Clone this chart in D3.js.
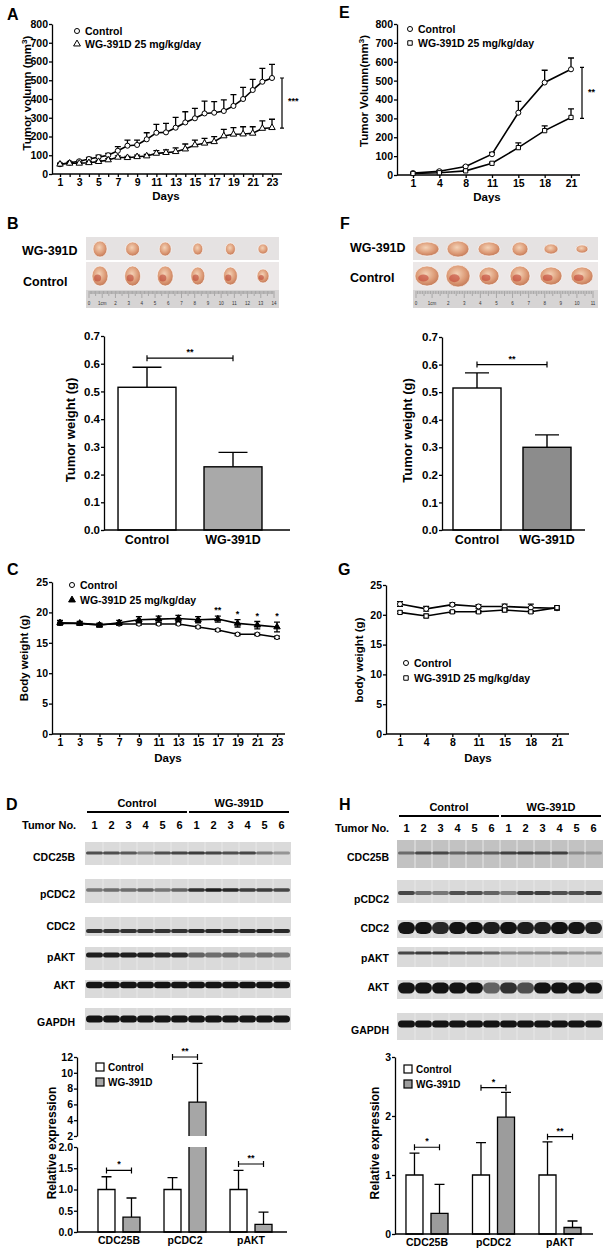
<!DOCTYPE html>
<html>
<head>
<meta charset="utf-8">
<script src="https://cdn.jsdelivr.net/npm/d3@7"></script>
<style>
  body { margin: 0; background: #fff; }
</style>
</head>
<body>
<script>
// ---- data ----
const daysA = [1,2,3,4,5,6,7,8,9,10,11,12,13,14,15,16,17,18,19,20,21,22,23];
const volCtlA = [52,60,68,80,90,100,124,151,155,185,220,222,247,275,297,323,327,336,363,400,448,492,512];
const volCtlErrA = [5,5,5,8,10,10,22,30,26,35,45,48,55,57,53,66,59,59,60,62,57,71,73];
const volWgA = [52,57,57,60,66,75,89,87,92,96,110,114,119,133,155,164,172,203,212,213,217,243,247];
const volWgErrA = [4,4,5,6,7,7,8,7,9,8,15,15,20,27,26,26,27,35,35,39,35,40,45];

const daysE = [1,4,8,11,15,18,21];
const volCtlE = [10,20,45,110,330,490,560];
const volCtlErrE = [3,4,5,10,60,65,60];
const volWgE = [8,12,22,62,145,235,305];
const volWgErrE = [2,3,4,5,25,25,45];

const weightGroups = ["Control", "WG-391D"];
const weightB = [0.515, 0.228];
const weightErrB = [0.072, 0.052];
const weightF = [0.515, 0.30];
const weightErrF = [0.055, 0.045];

const daysC = [1,3,5,7,9,11,13,15,17,19,21,23];
const bwCtlC = [18.2,18.2,18.0,18.1,18.1,18.1,18.1,17.6,17.1,16.4,16.4,15.9];
const bwCtlErrC = [0.2,0.2,0.2,0.2,0.2,0.2,0.2,0.2,0.2,0.2,0.2,0.2];
const bwWgC = [18.3,18.2,17.9,18.3,18.8,18.9,19.0,18.8,18.9,18.2,17.9,17.6];
const bwWgErrC = [0.4,0.3,0.3,0.4,0.5,0.5,0.5,0.5,0.5,0.6,0.6,0.8];
const starsC = ["","","","","","","","","**","*","*","*"];

const daysG = [1,4,8,11,15,18,21];
const bwCtlG = [21.8,21.0,21.7,21.4,21.4,21.2,21.1];
const bwCtlErrG = [0.4,0.4,0.3,0.3,0.4,0.6,0.3];
const bwWgG = [20.4,19.8,20.5,20.5,20.8,20.5,21.2];
const bwWgErrG = [0.2,0.3,0.2,0.2,0.3,0.2,0.3];

const proteins = ["CDC25B", "pCDC2", "pAKT"];
const exprCtlD = [1, 1, 1];
const exprCtlErrD = [0.3, 0.28, 0.45];
const exprWgD = [0.35, 6.3, 0.18];
const exprWgErrD = [0.45, 4.9, 0.29];
const exprCtlH = [1, 1, 1];
const exprCtlErrH = [0.37, 0.55, 0.56];
const exprWgH = [0.35, 1.98, 0.11];
const exprWgErrH = [0.49, 0.42, 0.11];

const volTicks = [0,100,200,300,400,500,600,700,800];
const weightTicks = [0,0.1,0.2,0.3,0.4,0.5,0.6,0.7];
const bodyTicks = [0,5,10,15,20,25];
const exprLowTicksD = [0,0.5,1,1.5,2];
const exprHighTicksD = [2,4,6,8,10,12];
const exprTicksH = [0,1,2,3];

const laneIds = ["c1","c2","c3","c4","c5","c6","w1","w2","w3","w4","w5","w6"];
const laneNames = ["1","2","3","4","5","6","1","2","3","4","5","6"];
const blotNames = ["CDC25B","pCDC2","CDC2","pAKT","AKT","GAPDH"];
// band darkness per lane (0..1)
const blotD = [
  [0.7,0.7,0.65,0.45,0.7,0.75,0.8,0.75,0.7,0.75,0.5,0.35],
  [0.5,0.55,0.55,0.6,0.5,0.6,0.85,0.95,0.9,0.8,0.8,0.75],
  [0.85,0.85,0.85,0.85,0.85,0.85,0.9,0.9,0.9,0.9,0.95,0.9],
  [0.95,0.95,0.95,0.95,0.9,0.9,0.6,0.55,0.6,0.5,0.55,0.5],
  [1,1,1,1,1,1,1,1,1,1,1,1],
  [1,1,1,1,1,1,1,1,1,1,1,1]
];
const blotH = [
  [0.5,0.7,0.7,0.55,0.6,0.6,0.75,0.8,0.75,0.75,0.3,0.25],
  [0.75,0.55,0.5,0.7,0.7,0.6,0.45,0.8,0.8,0.7,0.7,0.8],
  [1,1,0.9,1,1,0.95,1,0.95,0.95,1,1,0.95],
  [0.75,0.8,0.8,0.7,0.7,0.6,0.4,0.4,0.4,0.45,0.35,0.35],
  [1,1,1,1,1,0.6,0.85,0.7,1,1,1,1],
  [1,1,1,1,1,1,1,1,1,1,1,1]
];

// tumour sizes in the photos (width, height in px)
const tumorWB = [[14,16],[14,14],[12,14],[10,12],[10,12],[10,10]];
const tumorCB = [[16,20],[16,20],[16,20],[14,18],[14,18],[12,14]];
const tumorWF = [[24,14],[22,16],[22,14],[16,14],[14,10],[12,8]];
const tumorCF = [[24,20],[24,22],[20,18],[20,20],[22,18],[22,18]];

// ---- drawing ----
const FONT = "'Liberation Sans', Arial, Helvetica, sans-serif";
const svg = d3.select("body").append("svg").attr("width", 615).attr("height", 1250);

const defs = svg.append("defs");
const grad = defs.append("radialGradient").attr("id", "tumor").attr("cx", "45%").attr("cy", "40%").attr("r", "60%");
grad.append("stop").attr("offset", "0%").attr("stop-color", "#f4d2b6");
grad.append("stop").attr("offset", "65%").attr("stop-color", "#dc9a76");
grad.append("stop").attr("offset", "100%").attr("stop-color", "#c47a58");

function text(x, y, s, size, anchor, rotate) {
  const t = svg.append("text")
    .attr("x", x).attr("y", y)
    .attr("font-family", FONT).attr("font-weight", "bold")
    .attr("font-size", size).attr("fill", "#000")
    .attr("text-anchor", anchor || "start")
    .text(s);
  if (rotate) t.attr("transform", `rotate(-90,${x},${y})`);
  return t;
}

function styleAxis(g, size) {
  g.selectAll(".domain, .tick line").attr("stroke", "#000").attr("stroke-width", 1.3);
  g.selectAll(".tick text").attr("font-family", FONT).attr("font-weight", "bold")
    .attr("font-size", size).attr("fill", "#000");
}

function yAxis(x0, scale, ticks, fmt, size) {
  return svg.append("g").attr("transform", `translate(${x0},0)`)
    .call(d3.axisLeft(scale).tickValues(ticks).tickFormat(fmt || d3.format("")).tickSize(3).tickSizeOuter(0).tickPadding(1))
    .call(styleAxis, size || 10.5);
}

function xAxis(y0, scale, ticks, fmt, from, to, size, tick) {
  const ax = d3.axisBottom(scale).tickSizeOuter(0).tickSize(tick).tickPadding(tick ? 2 : 5);
  if (ticks) ax.tickValues(ticks);
  if (fmt) ax.tickFormat(fmt);
  return svg.append("g").attr("transform", `translate(0,${y0})`)
    .call(ax).call(styleAxis, size)
    .call(g => g.select(".domain").attr("d", `M${from},0H${to}`));
}

function bracket(xa, xb, yy, label) {
  svg.append("path")
    .attr("d", `M${xa},${yy - 3}V${yy + 3}M${xa},${yy}H${xb}M${xb},${yy - 3}V${yy + 3}`)
    .attr("stroke", "#000").attr("stroke-width", 1.2).attr("fill", "none");
  text((xa + xb) / 2, yy - 3, label, 9, "middle");
}

function drawSeries(x, y, s) {
  const pts = s.days.map((d, i) => ({ d, v: s.vals[i], e: s.errs[i] }));
  const cw = 3;
  const g = svg.append("g");
  g.selectAll(".err").data(pts).join("path")
    .attr("d", p => {
      const cx = x(p.d), top = y(p.v + p.e), bot = s.both ? y(p.v - p.e) : y(p.v);
      return `M${cx},${bot}V${top}M${cx - cw},${top}H${cx + cw}` + (s.both ? `M${cx - cw},${bot}H${cx + cw}` : "");
    })
    .attr("stroke", "#000").attr("stroke-width", 1.3).attr("fill", "none");
  g.append("path").datum(pts)
    .attr("d", d3.line().x(p => x(p.d)).y(p => y(p.v)))
    .attr("fill", "none").attr("stroke", "#000").attr("stroke-width", 1.6);
  g.selectAll(".pt").data(pts).join("path")
    .attr("transform", p => `translate(${x(p.d)},${y(p.v)})`)
    .attr("d", d3.symbol(s.sym, s.size || 20))
    .attr("fill", s.fill).attr("stroke", "#000").attr("stroke-width", 1);
  return pts;
}

function legendItem(x, y, sym, fill, label, size) {
  svg.append("path").attr("transform", `translate(${x},${y})`)
    .attr("d", d3.symbol(sym, 20)).attr("fill", fill).attr("stroke", "#000").attr("stroke-width", 1);
  text(x + 8, y + 4, label, size || 10.5);
}

function axisTitleSup(x, y, base, sup, tail, size) {
  const t = text(x, y, base, size, "middle", true);
  t.append("tspan").attr("baseline-shift", "super").attr("font-size", size * 0.7).text(sup);
  t.append("tspan").text(tail);
}

// ---------- A ----------
text(7, 20, "A", 16);
const xA = d3.scaleLinear([1, 23], [60, 272]);
const yA = d3.scaleLinear([0, 800], [174, 24]);
yAxis(52, yA, volTicks);
xAxis(174, xA, daysA, d => (d % 2 ? d : ""), 52, 282, 10.5, 3);
drawSeries(xA, yA, { days: daysA, vals: volCtlA, errs: volCtlErrA, sym: d3.symbolCircle, fill: "#fff" });
drawSeries(xA, yA, { days: daysA, vals: volWgA, errs: volWgErrA, sym: d3.symbolTriangle, fill: "#fff", size: 18 });
legendItem(77, 31, d3.symbolCircle, "#fff", "Control");
legendItem(77, 44, d3.symbolTriangle, "#fff", "WG-391D 25 mg/kg/day");
svg.append("path").attr("d", `M282,${yA(512)}V${yA(245)}M280,${yA(512)}H284M280,${yA(245)}H284`)
  .attr("stroke", "#000").attr("stroke-width", 1.2);
text(288, yA(372), "***", 9);
axisTitleSup(31, 93, "Tumor volumn (mm", "3", ")", 11.5);
text(166, 200, "Days", 11.5, "middle");

// ---------- E ----------
text(339, 18, "E", 16);
const xE = d3.scalePoint(daysE, [413, 571]);
const yE = d3.scaleLinear([0, 800], [175, 24]);
yAxis(397, yE, volTicks);
xAxis(175, xE, null, null, 397, 580, 10.5, 3);
drawSeries(xE, yE, { days: daysE, vals: volCtlE, errs: volCtlErrE, sym: d3.symbolCircle, fill: "#fff" });
drawSeries(xE, yE, { days: daysE, vals: volWgE, errs: volWgErrE, sym: d3.symbolSquare, fill: "#fff", size: 18 });
legendItem(410, 29, d3.symbolCircle, "#fff", "Control");
legendItem(410, 43, d3.symbolSquare, "#fff", "WG-391D 25 mg/kg/day");
svg.append("path").attr("d", `M582,${yE(570)}V${yE(300)}M580,${yE(570)}H584M580,${yE(300)}H584`)
  .attr("stroke", "#000").attr("stroke-width", 1.2);
text(588, yE(425), "**", 9);
axisTitleSup(368, 91, "Tumor Volumn(mm", "3", ")", 11.5);
text(487, 201, "Days", 11.5, "middle");

// ---------- photos (B, F) ----------
function photo(x0, x1, wg, ctl, rulerMax, spot) {
  const g = svg.append("g");
  g.append("rect").attr("x", x0).attr("y", 237).attr("width", x1 - x0).attr("height", 23).attr("fill", "#e5e2e2");
  g.append("rect").attr("x", x0).attr("y", 262).attr("width", x1 - x0).attr("height", 28).attr("fill", "#ece8e8");
  g.append("rect").attr("x", x0).attr("y", 290).attr("width", x1 - x0).attr("height", 18).attr("fill", "#d6d4d4");
  const px = d3.scalePoint(d3.range(6), [x0 + 14, x1 - 16]);
  const rows = [{ list: wg, cy: 249, red: false }, { list: ctl, cy: 276, red: true }];
  rows.forEach(r => {
    g.selectAll(null).data(r.list).join("ellipse")
      .attr("cx", (d, i) => px(i)).attr("cy", r.cy)
      .attr("rx", d => d[0] / 2).attr("ry", d => d[1] / 2)
      .attr("fill", "url(#tumor)").attr("stroke", "#fff").attr("stroke-width", 0.6);
    if (r.red) {
      g.selectAll(null).data(r.list).join("ellipse")
        .attr("cx", (d, i) => px(i) - d[0] * 0.15)
        .attr("cy", d => r.cy + d[1] * 0.1)
        .attr("rx", d => d[0] * 0.22).attr("ry", d => d[1] * 0.18)
        .attr("fill", spot).attr("opacity", 0.55);
    }
  });
  const rx = d3.scaleLinear([0, rulerMax], [x0 + 3, x1 - 5]);
  const mm = d3.range(0, rulerMax * 10 + 1);
  g.selectAll(null).data(mm).join("line")
    .attr("x1", d => rx(d / 10)).attr("x2", d => rx(d / 10))
    .attr("y1", 291).attr("y2", d => (d % 10 === 0 ? 298 : d % 5 === 0 ? 296 : 294))
    .attr("stroke", "#7a7a7a").attr("stroke-width", 0.5);
  g.selectAll(null).data(d3.range(0, rulerMax + 1)).join("text")
    .attr("x", d => rx(d)).attr("y", 305)
    .attr("font-family", FONT).attr("font-size", 4.5).attr("fill", "#333").attr("text-anchor", "middle")
    .text(d => (d === 1 ? "1cm" : d));
}

// ---------- B ----------
text(7, 229, "B", 16);
photo(86, 279, tumorWB, tumorCB, 14, "#b83a2c");
text(22, 255, "WG-391D", 12.5);
text(23, 286, "Control", 12.5);

function weightBars(o) {
  const y = d3.scaleLinear([0, 0.7], [o.yBot, o.yTop]);
  const x = d3.scaleBand(weightGroups, o.range).paddingInner(o.pi).paddingOuter(o.po);
  const rows = weightGroups.map((k, i) => ({ k, v: o.vals[i], e: o.errs[i] }));
  const g = svg.append("g");
  g.selectAll(".err").data(rows).join("path")
    .attr("d", r => {
      const cx = x(r.k) + x.bandwidth() / 2, w = x.bandwidth() / 4, t = y(r.v + r.e);
      return `M${cx},${y(r.v)}V${t}M${cx - w},${t}H${cx + w}`;
    })
    .attr("stroke", "#000").attr("stroke-width", 1.4);
  g.selectAll("rect").data(rows).join("rect")
    .attr("x", r => x(r.k)).attr("y", r => y(r.v))
    .attr("width", x.bandwidth()).attr("height", r => y(0) - y(r.v))
    .attr("fill", (r, i) => (i ? o.gray : "#fff")).attr("stroke", "#000").attr("stroke-width", 1.4);
  yAxis(o.axisX, y, weightTicks, d3.format(".1f"), 11.5);
  xAxis(o.yBot, x, null, null, o.axisX, o.axisEnd, 12.5, 0);
  bracket(x("Control") + x.bandwidth() / 2, x("WG-391D") + x.bandwidth() / 2, y(o.sig), "**");
  text(o.titleX, (o.yTop + o.yBot) / 2 - 3, "Tumor weight (g)", 13, "middle", true);
}

weightBars({ yTop: 336, yBot: 530, range: [104, 276], pi: 0.326, po: 0.163,
  vals: weightB, errs: weightErrB, gray: "#a9a9a9", axisX: 104, axisEnd: 290, sig: 0.62, titleX: 75 });

// ---------- F ----------
text(340, 229, "F", 16);
photo(413, 598, tumorWF, tumorCF, 11, "#c0392b");
text(350, 252, "WG-391D", 12.5);
text(350, 282, "Control", 12.5);
weightBars({ yTop: 337, yBot: 530, range: [442, 582], pi: 0.314, po: 0.157,
  vals: weightF, errs: weightErrF, gray: "#8c8c8c", axisX: 442, axisEnd: 585, sig: 0.6, titleX: 412 });

// ---------- C ----------
text(7, 575, "C", 16);
const xC = d3.scaleLinear([1, 23], [60, 277]);
const yC = d3.scaleLinear([0, 25], [734, 582]);
yAxis(52, yC, bodyTicks);
xAxis(734, xC, daysC, null, 52, 285, 10.5, 3);
drawSeries(xC, yC, { days: daysC, vals: bwCtlC, errs: bwCtlErrC, sym: d3.symbolCircle, fill: "#fff", both: true, size: 16 });
const wgC = drawSeries(xC, yC, { days: daysC, vals: bwWgC, errs: bwWgErrC, sym: d3.symbolTriangle, fill: "#000", both: true, size: 18 });
svg.append("g").selectAll("text").data(wgC.filter((p, i) => starsC[i])).join("text")
  .attr("x", p => xC(p.d)).attr("y", p => yC(p.v + p.e) - 3)
  .attr("font-family", FONT).attr("font-weight", "bold").attr("font-size", 9).attr("text-anchor", "middle")
  .text(p => starsC[daysC.indexOf(p.d)]);
legendItem(72, 585, d3.symbolCircle, "#fff", "Control");
legendItem(72, 600, d3.symbolTriangle, "#000", "WG-391D 25 mg/kg/day");
text(28, 658, "Body weight (g)", 11.5, "middle", true);
text(168, 762, "Days", 11.5, "middle");

// ---------- G ----------
text(338, 575, "G", 16);
const xG = d3.scalePoint(daysG, [400, 557]);
const yG = d3.scaleLinear([0, 25], [734, 585]);
yAxis(386, yG, bodyTicks);
xAxis(734, xG, null, null, 386, 569, 10.5, 3);
drawSeries(xG, yG, { days: daysG, vals: bwCtlG, errs: bwCtlErrG, sym: d3.symbolCircle, fill: "#fff", both: true });
drawSeries(xG, yG, { days: daysG, vals: bwWgG, errs: bwWgErrG, sym: d3.symbolSquare, fill: "#fff", both: true, size: 18 });
legendItem(406, 663, d3.symbolCircle, "#fff", "Control");
legendItem(406, 678, d3.symbolSquare, "#fff", "WG-391D 25 mg/kg/day");
text(363, 660, "body weight (g)", 11.5, "middle", true);
text(478, 762, "Days", 11.5, "middle");

// ---------- western blots (D, H) ----------
function blots(o) {
  const lane = d3.scaleBand(laneIds, o.range).paddingInner(0.12);
  const g = svg.append("g");
  const c1 = lane("c1"), c6 = lane("c6") + lane.bandwidth(), w1 = lane("w1"), w6 = lane("w6") + lane.bandwidth();
  g.append("path").attr("d", `M${c1},${o.lineY}H${c6}M${w1},${o.lineY}H${w6}`)
    .attr("stroke", "#000").attr("stroke-width", 1.8);
  text((c1 + c6) / 2, o.lineY - 5, "Control", 11, "middle");
  text((w1 + w6) / 2, o.lineY - 5, "WG-391D", 11, "middle");
  text(o.tumorX, o.numY, "Tumor No.", 11);
  g.selectAll(".num").data(laneIds).join("text")
    .attr("x", d => lane(d) + lane.bandwidth() / 2).attr("y", o.numY)
    .attr("font-family", FONT).attr("font-weight", "bold").attr("font-size", 11).attr("text-anchor", "middle")
    .text((d, i) => laneNames[i]);
  o.rows.forEach((r, ri) => {
    const x0 = o.range[0] - 2, x1 = o.range[1] + 2;
    g.append("rect").attr("x", x0).attr("y", r.top).attr("width", x1 - x0).attr("height", r.h).attr("fill", r.bg || "#dadada");
    g.selectAll(null).data(laneIds.slice(1)).join("line")
      .attr("x1", d => lane(d) - 1).attr("x2", d => lane(d) - 1)
      .attr("y1", r.top).attr("y2", r.top + r.h)
      .attr("stroke", "#e8e8e8").attr("stroke-width", 1);
    g.selectAll(null).data(o.vals[ri]).join("rect")
      .attr("x", (d, i) => lane(laneIds[i]) - 1).attr("width", lane.bandwidth() + 2)
      .attr("y", r.band - r.bh / 2).attr("height", r.bh)
      .attr("rx", r.bh / 2)
      .attr("fill", "#141414").attr("opacity", d => d);
    text(o.labelX, r.label, blotNames[ri], 10.5, "end");
  });
}

text(6, 810, "D", 16);
blots({ range: [87, 289], lineY: 812, numY: 829, tumorX: 22, labelX: 75, vals: blotD, rows: [
  { top: 842, h: 23, band: 853, bh: 3, label: 861 },
  { top: 879, h: 24, band: 890, bh: 3.5, label: 898 },
  { top: 917, h: 19, band: 931, bh: 4, label: 930 },
  { top: 947, h: 23, band: 955, bh: 5, label: 961 },
  { top: 980, h: 18, band: 985, bh: 6.5, label: 989 },
  { top: 1008, h: 22, band: 1019, bh: 7, label: 1026 }
] });

text(339, 810, "H", 16);
blots({ range: [399, 601], lineY: 816, numY: 832, tumorX: 335, labelX: 389, vals: blotH, rows: [
  { top: 840, h: 28, band: 853, bh: 3, label: 861, bg: "#c2c2c2" },
  { top: 880, h: 23, band: 893, bh: 4, label: 903 },
  { top: 920, h: 18, band: 928, bh: 12, label: 932 },
  { top: 947, h: 20, band: 953, bh: 3, label: 962 },
  { top: 980, h: 19, band: 988, bh: 11, label: 991 },
  { top: 1013, h: 27, band: 1024, bh: 7, label: 1034 }
] });

// ---------- relative expression bars ----------
function exprChart(o) {
  const x0 = d3.scaleBand(proteins, o.range).paddingInner(o.pi).paddingOuter(o.po);
  const x1 = d3.scaleBand(weightGroups, [0, x0.bandwidth()]).paddingInner(0.32);
  const yv = v => (o.high && v > o.breakAt ? o.high(v) : o.low(v));
  const rows = [];
  proteins.forEach((p, i) => {
    rows.push({ p, k: "Control", v: o.ctl[i], e: o.ctlErr[i] });
    rows.push({ p, k: "WG-391D", v: o.wg[i], e: o.wgErr[i] });
  });
  // a bar above the axis break is split in two pieces, open at the break
  const segs = [];
  rows.forEach(r => {
    if (o.high && r.v > o.breakAt) {
      segs.push({ r, a: o.low(0), b: o.low(o.breakAt), open: "top" });
      segs.push({ r, a: o.high(o.breakAt), b: o.high(r.v), open: "bottom" });
    } else segs.push({ r, a: o.low(0), b: o.low(r.v), open: null });
  });
  const bx = r => x0(r.p) + x1(r.k);
  const w = x1.bandwidth();
  const g = svg.append("g");
  g.selectAll(".err").data(rows).join("path")
    .attr("d", r => {
      const cx = bx(r) + w / 2, t = yv(r.v + r.e), cw = 5;
      return `M${cx},${yv(r.v)}V${t}M${cx - cw},${t}H${cx + cw}`;
    })
    .attr("stroke", "#000").attr("stroke-width", 1.3);
  g.selectAll(".bar").data(segs).join("rect")
    .attr("x", s => bx(s.r)).attr("width", w)
    .attr("y", s => s.b).attr("height", s => s.a - s.b)
    .attr("fill", s => (s.r.k === "Control" ? "#fff" : o.gray));
  g.selectAll(".edge").data(segs).join("path")
    .attr("d", s => {
      const l = bx(s.r), r = l + w;
      if (s.open === "top") return `M${l},${s.b}V${s.a}H${r}V${s.b}`;
      if (s.open === "bottom") return `M${l},${s.a}V${s.b}H${r}V${s.a}`;
      return `M${l},${s.a}V${s.b}H${r}V${s.a}Z`;
    })
    .attr("fill", "none").attr("stroke", "#000").attr("stroke-width", 1.3);
  yAxis(o.axisX, o.low, o.lowTicks, o.lowFmt, 10.5);
  if (o.high) yAxis(o.axisX, o.high, o.highTicks, d3.format("d"), 10.5);
  xAxis(o.low(0), x0, null, null, o.axisX, o.axisEnd, 10.5, 0);
  proteins.forEach((p, i) => {
    const a = x0(p) + x1("Control") + w / 2;
    const b = x0(p) + x1("WG-391D") + w / 2;
    bracket(a, b, yv(o.sigAt[i]), o.sig[i]);
  });
  [["Control", "#fff"], ["WG-391D", o.gray]].forEach((l, i) => {
    svg.append("rect").attr("x", o.legX).attr("y", o.legY + i * 15 - 4).attr("width", 8).attr("height", 8)
      .attr("fill", l[1]).attr("stroke", "#000").attr("stroke-width", 1.2);
    text(o.legX + 12, o.legY + i * 15 + 4, l[0], 10);
  });
  text(o.titleX, 1143, "Relative expression", 12, "middle", true);
}

exprChart({
  range: [77, 293], pi: 0.364, po: 0.318, axisX: 77, axisEnd: 287,
  low: d3.scaleLinear([0, 2], [1232, 1147]), high: d3.scaleLinear([2, 12], [1136, 1057]), breakAt: 2,
  lowTicks: exprLowTicksD, highTicks: exprHighTicksD, lowFmt: d3.format(".1f"),
  ctl: exprCtlD, ctlErr: exprCtlErrD, wg: exprWgD, wgErr: exprWgErrD, gray: "#a6a6a6",
  sigAt: [1.45, 12, 1.6], sig: ["*", "**", "**"], legX: 96, legY: 1067, titleX: 56
});

exprChart({
  range: [395, 592], pi: 0.368, po: 0.165, axisX: 395, axisEnd: 593,
  low: d3.scaleLinear([0, 3], [1234, 1057]), high: null,
  lowTicks: exprTicksH, lowFmt: d3.format("d"),
  ctl: exprCtlH, ctlErr: exprCtlErrH, wg: exprWgH, wgErr: exprWgErrH, gray: "#9c9c9c",
  sigAt: [1.47, 2.48, 1.65], sig: ["*", "*", "**"], legX: 404, legY: 1069, titleX: 379
});
</script>
</body>
</html>
